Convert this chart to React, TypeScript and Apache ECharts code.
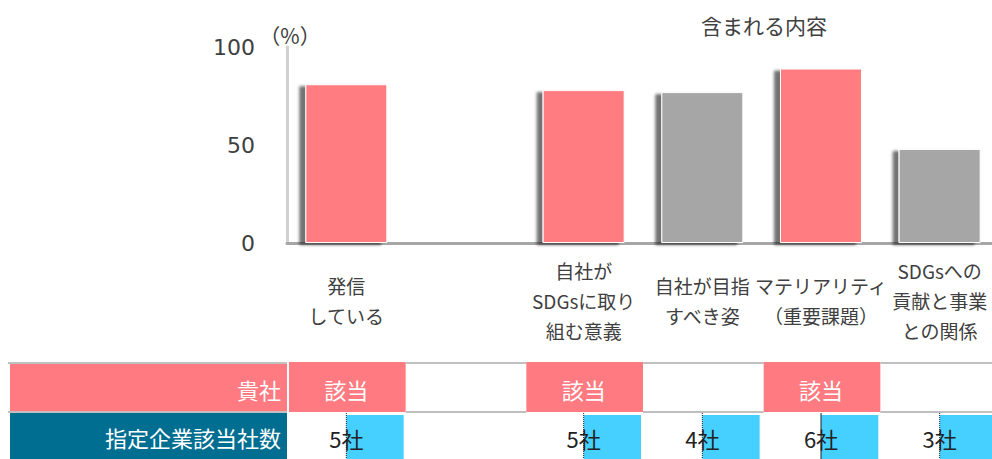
import React, { useEffect, useRef } from "react";
import * as echarts from "echarts";

const categories = [
  "発信\nしている",
  "",
  "自社が\nSDGsに取り\n組む意義",
  "自社が目指\nすべき姿",
  "マテリアリティ\n（重要課題）",
  "SDGsへの\n貢献と事業\nとの関係",
];
const rates: (number | null)[] = [81, null, 78, 77, 89, 48];
const ownCompany = [1, 0, 1, 0, 1, 0];
const companyCounts = [5, 0, 5, 4, 6, 3];
const yMin = 0;
const yMax = 100;
const yInterval = 50;
const titleText = "含まれる内容";
const unitText = "（%）";
const rowOwnLabel = "貴社";
const rowOwnMark = "該当";
const rowCountLabel = "指定企業該当社数";
const countSuffix = "社";

const PINK = "#FF7B81";
const GRAY = "#A6A6A6";
const BLUE = "#45D0FF";
const TEAL = "#006E91";
const TEXT = "#404040";
const LINE = "#C0C0C0";
const JP = "'Noto Sans CJK JP', sans-serif";

export default function App() {
  const ref = useRef<HTMLDivElement>(null);
  useEffect(() => {
    if (!ref.current) return;
    const chart = echarts.init(ref.current, null, { renderer: "svg" });
    const maxCount = Math.max(...companyCounts);

    const barData = rates.map((v, i) =>
      v == null
        ? null
        : { value: v, itemStyle: { color: ownCompany[i] ? PINK : GRAY } }
    );
    const tableData = categories.map((_, i) => [i, ownCompany[i], companyCounts[i]]);

    chart.setOption({
      animation: false,
      grid: { left: 287, right: 13, top: 47, bottom: 216, containLabel: false },
      xAxis: {
        type: "category",
        data: categories,
        axisLine: { show: true, lineStyle: { color: GRAY, width: 3 } },
        axisTick: { show: false },
        axisLabel: {
          interval: 0,
          color: TEXT,
          fontFamily: JP,
          fontSize: 19,
          lineHeight: 30,
          verticalAlign: "middle",
          margin: 57,
        },
      },
      yAxis: {
        type: "value",
        min: yMin,
        max: yMax,
        interval: yInterval,
        axisLine: { show: true, lineStyle: { color: "#D0D0D0", width: 3 } },
        axisTick: { show: false },
        splitLine: { show: false },
        axisLabel: {
          color: TEXT,
          fontFamily: "'DejaVu Sans', sans-serif",
          fontSize: 22,
          margin: 32,
        },
      },
      graphic: [
        {
          type: "text",
          x: 764,
          y: 25,
          style: {
            text: titleText,
            fill: TEXT,
            font: `21px ${JP}`,
            align: "center",
            textAlign: "center",
            verticalAlign: "middle",
            textVerticalAlign: "middle",
          },
        },
        {
          type: "text",
          x: 290,
          y: 35,
          style: {
            text: unitText,
            fill: TEXT,
            font: `21px ${JP}`,
            align: "center",
            textAlign: "center",
            verticalAlign: "middle",
            textVerticalAlign: "middle",
          },
        },
        { type: "rect", shape: { x: 8, y: 362, width: 279, height: 2 }, style: { fill: LINE } },
        { type: "rect", shape: { x: 8, y: 411, width: 279, height: 2 }, style: { fill: LINE } },
        { type: "rect", shape: { x: 10, y: 364, width: 277, height: 47 }, style: { fill: PINK } },
        {
          type: "text",
          x: 281,
          y: 389,
          style: {
            text: rowOwnLabel,
            fill: "#fff",
            font: `22px ${JP}`,
            align: "right",
            textAlign: "right",
            verticalAlign: "middle",
            textVerticalAlign: "middle",
          },
        },
        { type: "rect", shape: { x: 10, y: 413, width: 277, height: 46 }, style: { fill: TEAL } },
        {
          type: "text",
          x: 281,
          y: 437,
          style: {
            text: rowCountLabel,
            fill: "#fff",
            font: `22px ${JP}`,
            align: "right",
            textAlign: "right",
            verticalAlign: "middle",
            textVerticalAlign: "middle",
          },
        },
      ],
      series: [
        {
          type: "bar",
          data: barData,
          barWidth: 82,
          itemStyle: {
            borderColor: "#fff",
            borderWidth: 1,
            shadowColor: "rgba(0,0,0,0.55)",
            shadowBlur: 3,
            shadowOffsetX: -6,
            shadowOffsetY: 2,
          },
        },
        {
          type: "custom",
          clip: false,
          data: tableData,
          z: 5,
          renderItem: (params: any, api: any) => {
            const idx = api.value(0);
            const own = api.value(1);
            const count = api.value(2);
            const cx = api.coord([idx, 0])[0];
            const bw = api.size([1, 0])[0];
            const x0 = cx - bw / 2;
            const children: any[] = [];
            if (own) {
              children.push({
                type: "rect",
                shape: { x: x0 + 2, y: 362, width: bw - 2, height: 50 },
                style: { fill: PINK },
              });
              children.push({
                type: "text",
                x: cx,
                y: 389,
                style: {
                  text: rowOwnMark,
                  fill: "#fff",
                  font: `22px ${JP}`,
                  align: "center",
                  verticalAlign: "middle",
                },
              });
            } else {
              children.push({
                type: "rect",
                shape: { x: x0, y: 362, width: bw + 2, height: 2 },
                style: { fill: LINE },
              });
              children.push({
                type: "rect",
                shape: { x: x0, y: 411, width: bw + 2, height: 2 },
                style: { fill: LINE },
              });
            }
            if (count > 0) {
              children.push({
                type: "rect",
                shape: { x: cx, y: 415, width: bw / 2 - 2, height: 44 },
                style: { fill: BLUE },
              });
              children.push({
                type: "line",
                shape: { x1: cx, y1: 413, x2: cx, y2: 459 },
                style: {
                  stroke: "#222",
                  lineWidth: 1,
                  lineDash: count === maxCount ? null : [1, 1],
                },
              });
              children.push({
                type: "text",
                x: cx,
                y: 438,
                style: {
                  text: `${count}${countSuffix}`,
                  fill: "#222",
                  font: `22px ${JP}`,
                  align: "center",
                  verticalAlign: "middle",
                },
              });
            }
            return { type: "group", children };
          },
        },
      ],
    });
    return () => chart.dispose();
  }, []);
  return (
    <div
      style={{
        position: "absolute",
        left: 0,
        top: 0,
        width: 992,
        height: 459,
        overflow: "hidden",
        background: "#fff",
      }}
    >
      <div ref={ref} style={{ width: 1012, height: 459 }} />
    </div>
  );
}
